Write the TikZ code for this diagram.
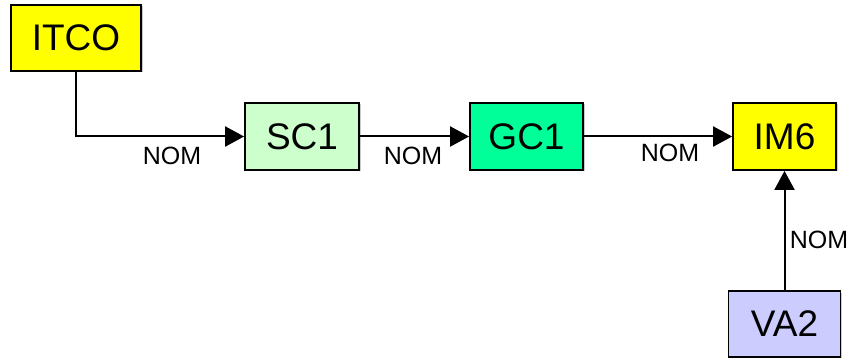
\documentclass[tikz,border=0pt]{standalone}
\usepackage{fontspec}
\setmainfont{Liberation Sans}
\usetikzlibrary{arrows.meta,shadows}
\definecolor{cyel}{HTML}{FFFF00}
\definecolor{cgreenl}{HTML}{CCFFCC}
\definecolor{cgreen}{HTML}{00FF99}
\definecolor{cblue}{HTML}{CCCCFF}
\tikzset{
  box/.style={draw=black, line width=1.8pt, inner sep=0pt, font=\fontsize{37}{37}\selectfont,
    drop shadow={shadow xshift=1.5pt, shadow yshift=-1.5pt, fill=black!35, opacity=0.6}},
  lbl/.style={font=\fontsize{25}{25}\selectfont, inner sep=0pt},
  conn/.style={line width=2pt, -{Triangle[length=19pt,width=20pt]}}
}
\begin{document}
\begin{tikzpicture}[x=1pt,y=-1pt]
\useasboundingbox (0,0) rectangle (851,358);
\node[box, fill=cyel, minimum width=130pt, minimum height=66pt] (itco) at (76,38) {ITCO};
\node[box, fill=cgreenl, minimum width=114pt, minimum height=67pt] (sc1) at (302,136.5) {SC1};
\node[box, fill=cgreen, minimum width=113pt, minimum height=67pt] (gc1) at (526.5,136.5) {GC1};
\node[box, fill=cyel, minimum width=103pt, minimum height=67pt] (im6) at (784.5,136.5) {IM6};
\node[box, fill=cblue, minimum width=112pt, minimum height=66pt] (va2) at (784.5,324) {VA2};
\draw[conn] (itco.south) |- (sc1.west);
\draw[conn] (sc1.east) -- (gc1.west);
\draw[conn] (gc1.east) -- (im6.west);
\draw[conn] (va2.north) -- (im6.south);
\node[lbl] (l1) at (172,156) {NOM};
\node[lbl] (l2) at (413,156) {NOM};
\node[lbl] (l3) at (670,153) {NOM};
\node[lbl] (l4) at (819,240) {NOM};
\end{tikzpicture}
\end{document}
